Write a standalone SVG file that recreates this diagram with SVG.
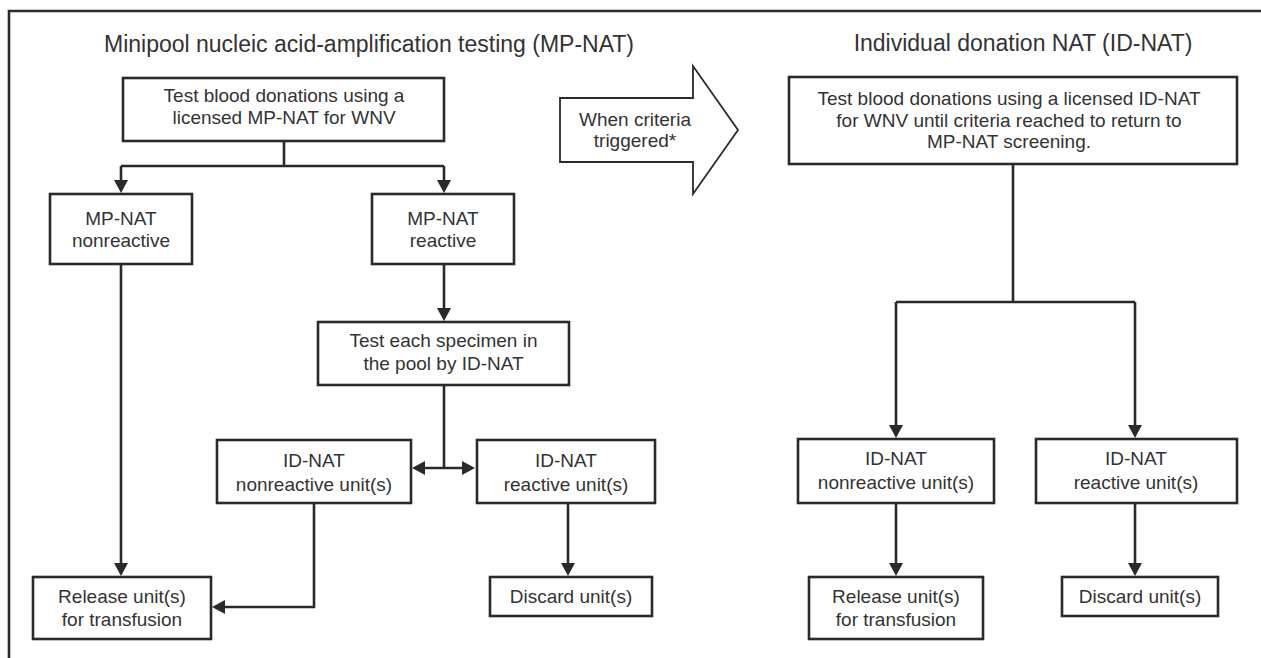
<svg xmlns="http://www.w3.org/2000/svg" width="1261" height="658" viewBox="0 0 1261 658">
<style>
  .box{fill:#fff;stroke:#2a2a2a;stroke-width:2.6}
  .ln{fill:none;stroke:#2a2a2a;stroke-width:2.6}
  .t{font-family:"Liberation Sans",Arial,Helvetica,sans-serif;font-size:19px;fill:#333;text-anchor:middle}
  .h{font-family:"Liberation Sans",Arial,Helvetica,sans-serif;font-size:23px;fill:#333;text-anchor:middle}
</style>
<defs>
  <marker id="ah" markerUnits="userSpaceOnUse" markerWidth="14" markerHeight="14" viewBox="0 0 13 14" refX="10" refY="7" orient="auto-start-reverse">
    <path d="M0,0 L13,7 L0,14 z" fill="#2a2a2a"/>
  </marker>
</defs>
<rect width="1261" height="658" fill="#fff"/>
<path id="frame" class="ln" d="M9,658 V11 H1261"/>
<text class="h" x="369" y="52">Minipool nucleic acid-amplification testing (MP-NAT)</text>
<text class="h" x="1023" y="51">Individual donation NAT (ID-NAT)</text>

<g id="connectors">
  <path class="ln" d="M284,141 V166 M121,166 H444"/>
  <path class="ln" d="M121,166 V190" marker-end="url(#ah)"/>
  <path class="ln" d="M444,166 V190" marker-end="url(#ah)"/>
  <path class="ln" d="M444,264 V318" marker-end="url(#ah)"/>
  <path class="ln" d="M444,385 V468"/>
  <path class="ln" d="M415,468 H472" marker-start="url(#ah)" marker-end="url(#ah)"/>
  <path class="ln" d="M568,503 V573" marker-end="url(#ah)"/>
  <path class="ln" d="M121,264 V573" marker-end="url(#ah)"/>
  <path class="ln" d="M314,503 V607 H215" marker-end="url(#ah)"/>
  <path class="ln" d="M1013,164 V302 M896,302 H1135"/>
  <path class="ln" d="M896,302 V435" marker-end="url(#ah)"/>
  <path class="ln" d="M1135,302 V435" marker-end="url(#ah)"/>
  <path class="ln" d="M896,503 V573" marker-end="url(#ah)"/>
  <path class="ln" d="M1135,503 V573" marker-end="url(#ah)"/>
</g>

<g id="mp-top">
  <rect class="box" x="123" y="78" width="321" height="63"/>
  <text class="t" x="284" y="101.5">Test blood donations using a</text>
  <text class="t" x="284" y="124">licensed MP-NAT for WNV</text>
</g>
<g id="mp-nonreactive">
  <rect class="box" x="50" y="194" width="142" height="70"/>
  <text class="t" x="121" y="225">MP-NAT</text>
  <text class="t" x="121" y="247">nonreactive</text>
</g>
<g id="mp-reactive">
  <rect class="box" x="372" y="194" width="142" height="70"/>
  <text class="t" x="443" y="225">MP-NAT</text>
  <text class="t" x="443" y="247">reactive</text>
</g>
<g id="test-each">
  <rect class="box" x="318" y="322" width="251" height="63"/>
  <text class="t" x="443.5" y="347">Test each specimen in</text>
  <text class="t" x="443.5" y="369.5">the pool by ID-NAT</text>
</g>
<g id="id-nonreactive-left">
  <rect class="box" x="217" y="440" width="194" height="63"/>
  <text class="t" x="314" y="467">ID-NAT</text>
  <text class="t" x="314" y="490.5">nonreactive unit(s)</text>
</g>
<g id="id-reactive-left">
  <rect class="box" x="477" y="440" width="178" height="63"/>
  <text class="t" x="566" y="467">ID-NAT</text>
  <text class="t" x="566" y="490.5">reactive unit(s)</text>
</g>
<g id="release-left">
  <rect class="box" x="33" y="577" width="178" height="62"/>
  <text class="t" x="122" y="603">Release unit(s)</text>
  <text class="t" x="122" y="626">for transfusion</text>
</g>
<g id="discard-left">
  <rect class="box" x="490" y="577" width="162" height="39"/>
  <text class="t" x="571" y="603">Discard unit(s)</text>
</g>

<g id="when-criteria">
  <polygon points="560,98 693,98 693,66 738,130 693,194 693,162 560,162" fill="#fff" stroke="#2a2a2a" stroke-width="1.8"/>
  <text class="t" x="635" y="126">When criteria</text>
  <text class="t" x="635" y="147">triggered*</text>
</g>

<g id="id-top">
  <rect class="box" x="789" y="77" width="448" height="87"/>
  <text class="t" x="1009" y="105">Test blood donations using a licensed ID-NAT</text>
  <text class="t" x="1009" y="126.7">for WNV until criteria reached to return to</text>
  <text class="t" x="1009" y="148.3">MP-NAT screening.</text>
</g>
<g id="id-nonreactive-right">
  <rect class="box" x="798" y="439" width="196" height="64"/>
  <text class="t" x="896" y="465">ID-NAT</text>
  <text class="t" x="896" y="489">nonreactive unit(s)</text>
</g>
<g id="id-reactive-right">
  <rect class="box" x="1036" y="439" width="201" height="64"/>
  <text class="t" x="1136" y="465">ID-NAT</text>
  <text class="t" x="1136" y="489">reactive unit(s)</text>
</g>
<g id="release-right">
  <rect class="box" x="809" y="577" width="174" height="62"/>
  <text class="t" x="896" y="603">Release unit(s)</text>
  <text class="t" x="896" y="626">for transfusion</text>
</g>
<g id="discard-right">
  <rect class="box" x="1062" y="577" width="156" height="39"/>
  <text class="t" x="1140" y="603">Discard unit(s)</text>
</g>
</svg>
